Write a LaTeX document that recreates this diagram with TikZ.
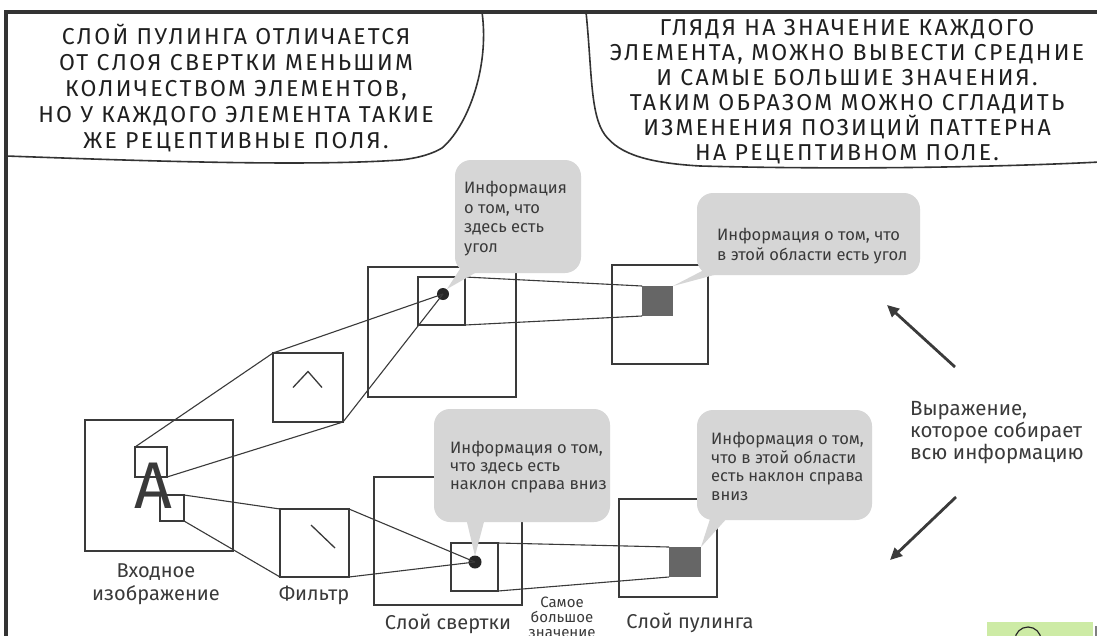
\documentclass[tikz,border=0pt]{standalone}
\usepackage{fontspec}
\setmainfont{Fira Sans}
\newfontfamily\comicfont{Fira Sans}[LetterSpace=10]
\usetikzlibrary{arrows.meta,calc}
\definecolor{ink}{HTML}{3A3A3A}
\definecolor{frameink}{HTML}{333333}
\definecolor{bub}{HTML}{D6D6D6}
\definecolor{poolsq}{HTML}{666666}
\definecolor{greenbox}{HTML}{CDEBA5}
\begin{document}
\begin{tikzpicture}[x=1pt,y=-1pt,
  box/.style={draw=ink, line width=1.3pt, inner sep=0pt, outer sep=0pt, anchor=north west},
  poolsquare/.style={fill=poolsq, draw=none, inner sep=0pt, outer sep=0pt, anchor=north west},
  link/.style={draw=ink, line width=1.1pt},
  bubble/.style={fill=bub, draw=none, rounded corners=16pt, inner sep=0pt, outer sep=0pt, anchor=north west},
  info/.style={text=ink, align=left, inner sep=0pt, anchor=base west},
  caption/.style={text=ink, align=center, inner sep=0pt, anchor=base},
  comic/.style={text=black!88, align=center, inner sep=0pt, anchor=base},
  bigarrow/.style={draw=ink, line width=2.8pt, -{Triangle[length=12pt,width=11pt]}},
  hand/.style={draw=frameink, line width=1.6pt, line cap=round},
]
\clip (0,0) rectangle (1097,635);
\useasboundingbox (0,0) rectangle (1097,635);
\fill[white] (0,0) rectangle (1097,635);

% panel frame
\draw[frameink, line width=4.5pt, line join=miter] (6,640) -- (6,12) -- (1100,12);

% speech balloons at the top
\draw[hand] (6,156) .. controls (120,160) and (300,167) .. (400,160)
  .. controls (420,158) and (434,153) .. (442,148)
  .. controls (466,128) and (490,70) .. (482,12);
\draw[hand] (586,12) .. controls (592,70) and (590,115) .. (605,135)
  .. controls (620,155) and (650,163) .. (700,166)
  .. controls (850,170) and (1000,167) .. (1100,162);

% (base anchor of a multi-line node = baseline of its last line)
\node[comic, font=\comicfont\fontsize{23}{26}\selectfont] (tleft) at (236,148)
  {СЛОЙ ПУЛИНГА ОТЛИЧАЕТСЯ\\ОТ СЛОЯ СВЕРТКИ МЕНЬШИМ\\КОЛИЧЕСТВОМ ЭЛЕМЕНТОВ,\\НО У КАЖДОГО ЭЛЕМЕНТА ТАКИЕ\\ЖЕ РЕЦЕПТИВНЫЕ ПОЛЯ.};
\node[comic, font=\comicfont\fontsize{23}{25}\selectfont] (tright) at (847,160)
  {ГЛЯДЯ НА ЗНАЧЕНИЕ КАЖДОГО\\ЭЛЕМЕНТА, МОЖНО ВЫВЕСТИ СРЕДНИЕ\\И САМЫЕ БОЛЬШИЕ ЗНАЧЕНИЯ.\\ТАКИМ ОБРАЗОМ МОЖНО СГЛАДИТЬ\\ИЗМЕНЕНИЯ ПОЗИЦИЙ ПАТТЕРНА\\НА РЕЦЕПТИВНОМ ПОЛЕ.};

% input image
\node[box, minimum width=148pt, minimum height=131pt] (inbox) at (85,420) {};
\node[box, minimum width=32pt, minimum height=30pt] (sU) at (135,447) {};
\node[box, minimum width=24pt, minimum height=26pt] (sL) at (160,495) {};
\node[text=ink, inner sep=0pt, anchor=base, font=\fontsize{66}{66}\selectfont] (letterA) at (153.5,508) {A};

% filters
\node[box, minimum width=70pt, minimum height=69pt] (fU) at (273,353) {};
\node[box, minimum width=69pt, minimum height=68pt] (fL) at (280,509) {};
\draw[ink, line width=1.3pt] ($(fU.center)+(-15,0)$) -- ($(fU.center)+(0,-16)$) -- ($(fU.center)+(14,0)$);
\draw[ink, line width=1.3pt] ($(fL.center)+(-3.5,-18)$) -- ($(fL.center)+(20.5,5)$);

% convolution layer
\node[box, minimum width=148pt, minimum height=130pt] (cU) at (368,267) {};
\node[box, minimum width=47pt, minimum height=48pt] (csU) at (418,277) {};
\node[box, minimum width=148pt, minimum height=128pt] (cL) at (374,477) {};
\node[box, minimum width=47pt, minimum height=48pt] (csL) at (451,543) {};

% pooling layer
\node[box, minimum width=96pt, minimum height=99pt] (pU) at (612,265) {};
\node[poolsquare, minimum width=31pt, minimum height=30pt] (psU) at (642,286) {};
\node[box, minimum width=98pt, minimum height=98pt] (pL) at (619,499) {};
\node[poolsquare, minimum width=32pt, minimum height=30pt] (psL) at (669,547) {};

% dots
\node[circle, fill=black!85, inner sep=0pt, minimum size=12pt] (dotU) at (443,294) {};
\node[circle, fill=black!85, inner sep=0pt, minimum size=13pt] (dotL) at (475,562) {};

% connectors
\draw[link] (sU.north west) -- (fU.north west) -- (dotU.center);
\draw[link] (sU.south east) -- (fU.south east) -- (dotU.center);
\draw[link] (sL.north east) -- (fL.north west);
\draw[link] (sL.south east) -- (fL.south west);
\draw[link] (fL.north east) -- (dotL.center);
\draw[link] (fL.south east) -- (dotL.center);
\draw[link] (csU.north east) -- (psU.north west);
\draw[link] (csU.south east) -- (psU.south west);
\draw[link] (csL.north east) -- (psL.north west);
\draw[link] (csL.south east) -- (psL.south west);

% info balloons
\node[bubble, minimum width=126pt, minimum height=113pt] (b1) at (455,160) {};
\fill[bub] ($(b1.south west)+(5,-4)$) -- ($(dotU.center)+(4,-5)$) -- ($(b1.south west)+(27,-4)$) -- cycle;
\node[info, font=\fontsize{16.5}{19.5}\selectfont] (t1) at (464,252) {Информация\\о том, что\\здесь есть\\угол};

\node[bubble, minimum width=223pt, minimum height=82pt] (b2) at (697,193) {};
\fill[bub] ($(b2.south west)+(5,-4)$) -- (psU.north east) -- ($(b2.south west)+(32,-4)$) -- cycle;
\node[info, font=\fontsize{16.5}{20}\selectfont] (t2) at (717,260) {Информация о том, что\\в этой области есть угол};

\node[bubble, minimum width=176pt, minimum height=113pt] (b3) at (434,409) {};
\fill[bub] ($(b3.south west)+(32,-4)$) -- ($(dotL.center)+(0,-6)$) -- ($(b3.south west)+(51,-4)$) -- cycle;
\node[info, font=\fontsize{16.5}{18}\selectfont] (t3) at (450,489) {Информация о том,\\что здесь есть\\наклон справа вниз};

\node[bubble, minimum width=175pt, minimum height=110pt] (b4) at (697,410) {};
\fill[bub] ($(b4.south west)+(14,-4)$) -- (psL.north east) -- ($(b4.south west)+(32,-4)$) -- cycle;
\node[info, font=\fontsize{16.5}{18.5}\selectfont] (t4) at (711,500) {Информация о том,\\что в этой области\\есть наклон справа\\вниз};

% captions
\node[caption, font=\fontsize{20}{23}\selectfont] (capIn) at (156,600) {Входное\\изображение};
\node[caption, font=\fontsize{20}{23}\selectfont] (capF) at (314,600) {Фильтр};
\node[caption, font=\fontsize{20}{23}\selectfont] (capC) at (448,629) {Слой свертки};
\node[caption, font=\fontsize{15}{15}\selectfont] (capMax) at (562,637) {Самое\\большое\\значение};
\node[caption, font=\fontsize{20}{23}\selectfont] (capP) at (690,628) {Слой пулинга};
\node[info, font=\fontsize{20.5}{22}\selectfont] (capAll) at (910,459) {Выражение,\\которое собирает\\всю информацию};

% arrows
\coordinate (a1s) at (955,367);
\coordinate (a1e) at (887,305);
\coordinate (a2s) at (956,497);
\coordinate (a2e) at (890,560);
\draw[bigarrow] (a1s) -- (a1e);
\draw[bigarrow] (a2s) -- (a2e);

% next panel fragment
\fill[greenbox] (987,622) rectangle (1093,640);
\draw[black!85, line width=1.2pt] (1015,640) arc[start angle=180, end angle=360, radius=13];
\draw[black!50, line width=1.2pt] (1096,626) -- (1096,640);
\end{tikzpicture}
\end{document}
